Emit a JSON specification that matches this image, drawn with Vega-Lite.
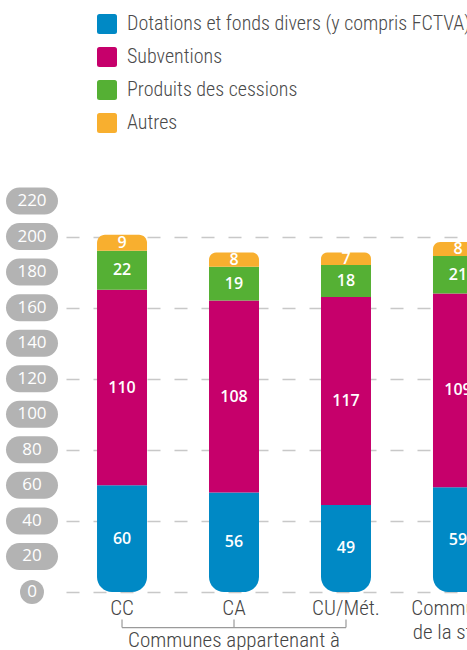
{
  "$schema": "https://vega.github.io/schema/vega-lite/v6.json",
  "width": 448,
  "height": 391,
  "autosize": {"type": "none"},
  "padding": {"left": 66, "top": 201, "right": 0, "bottom": 59},
  "background": "white",
  "config": {"view": {"stroke": null}, "font": "Roboto"},
  "data": {
    "values": [
      {"cat": "CC", "type": "Dotations et fonds divers (y compris FCTVA)", "v": 60},
      {"cat": "CC", "type": "Subventions", "v": 110},
      {"cat": "CC", "type": "Produits des cessions", "v": 22},
      {"cat": "CC", "type": "Autres", "v": 9},
      {"cat": "CA", "type": "Dotations et fonds divers (y compris FCTVA)", "v": 56},
      {"cat": "CA", "type": "Subventions", "v": 108},
      {"cat": "CA", "type": "Produits des cessions", "v": 19},
      {"cat": "CA", "type": "Autres", "v": 8},
      {"cat": "CU/Mét.", "type": "Dotations et fonds divers (y compris FCTVA)", "v": 49},
      {"cat": "CU/Mét.", "type": "Subventions", "v": 117},
      {"cat": "CU/Mét.", "type": "Produits des cessions", "v": 18},
      {"cat": "CU/Mét.", "type": "Autres", "v": 7},
      {"cat": "Communes de la strate", "type": "Dotations et fonds divers (y compris FCTVA)", "v": 59},
      {"cat": "Communes de la strate", "type": "Subventions", "v": 109},
      {"cat": "Communes de la strate", "type": "Produits des cessions", "v": 21},
      {"cat": "Communes de la strate", "type": "Autres", "v": 8}
    ]
  },
  "transform": [{"stack": "v", "groupby": ["cat"], "as": ["v0", "v1"]}],
  "layer": [
    {
      "transform": [{"filter": "datum.type === 'Dotations et fonds divers (y compris FCTVA)'"}],
      "mark": {"type": "bar", "cornerRadiusBottomLeft": 15, "cornerRadiusBottomRight": 15},
      "encoding": {
        "x": {
          "field": "cat", "type": "nominal",
          "sort": ["CC", "CA", "CU/Mét.", "Communes de la strate"],
          "scale": {"domain": ["CC", "CA", "CU/Mét.", "Communes de la strate"], "paddingInner": 0.5536, "paddingOuter": 0.277},
          "axis": {
            "title": null, "domain": false, "ticks": false, "labelAngle": 0,
            "labelFontSize": 21, "labelFont": "Roboto Condensed, DejaVu Sans Condensed, Roboto", "labelFontWeight": 300, "labelColor": "#444444",
            "labelPadding": 5, "labelOverlap": false, "labelFlush": false, "labelLimit": 300,
            "labelLineHeight": 24,
            "labelExpr": "datum.label == 'Communes de la strate' ? ['Communes', 'de la strate'] : datum.label"
          }
        },
        "y": {
          "field": "v1", "type": "quantitative",
          "scale": {"domain": [0, 220], "nice": false, "zero": true},
          "axis": {
            "title": null, "labels": false, "ticks": false, "domain": false, "grid": true,
            "values": [0, 20, 40, 60, 80, 100, 120, 140, 160, 180, 200, 220],
            "gridColor": "#C8C8C8", "gridWidth": 1.5, "gridDash": [13, 14]
          }
        },
        "y2": {"field": "v0"},
        "color": {
          "field": "type", "type": "nominal",
          "scale": {
            "domain": ["Dotations et fonds divers (y compris FCTVA)", "Subventions", "Produits des cessions", "Autres"],
            "range": ["#0089C5", "#C6006B", "#55B034", "#F8AF2F"]
          },
          "legend": {
            "title": null, "orient": "none", "legendX": 31, "legendY": -187, "padding": 0,
            "direction": "vertical",
            "symbolType": "M-0.75,-1H0.75Q1,-1 1,-0.75V0.75Q1,1 0.75,1H-0.75Q-1,1 -1,0.75V-0.75Q-1,-1 -0.75,-1Z",
            "symbolSize": 400, "symbolStrokeWidth": 0, "symbolOpacity": 1,
            "labelFontSize": 20, "labelFont": "Roboto Condensed, DejaVu Sans Condensed, Roboto", "labelFontWeight": 300, "labelColor": "#4A4A4A",
            "labelOffset": 10, "rowPadding": 13, "labelLimit": 500
          }
        }
      }
    },
    {
      "transform": [{"filter": "datum.type === 'Subventions' || datum.type === 'Produits des cessions'"}],
      "mark": {"type": "bar"},
      "encoding": {
        "x": {"field": "cat", "type": "nominal", "sort": ["CC", "CA", "CU/Mét.", "Communes de la strate"]},
        "y": {"field": "v1", "type": "quantitative"},
        "y2": {"field": "v0"},
        "color": {"field": "type", "type": "nominal"}
      }
    },
    {
      "transform": [{"filter": "datum.type === 'Autres'"}],
      "mark": {"type": "bar", "cornerRadiusTopLeft": 12, "cornerRadiusTopRight": 12},
      "encoding": {
        "x": {"field": "cat", "type": "nominal", "sort": ["CC", "CA", "CU/Mét.", "Communes de la strate"]},
        "y": {"field": "v1", "type": "quantitative"},
        "y2": {"field": "v0"},
        "color": {"field": "type", "type": "nominal"}
      }
    },
    {
      "mark": {"type": "text", "fill": "white", "font": "Open Sans", "fontWeight": 600, "fontSize": 16, "baseline": "middle"},
      "encoding": {
        "x": {"field": "cat", "type": "nominal", "sort": ["CC", "CA", "CU/Mét.", "Communes de la strate"]},
        "y": {"field": "v", "type": "quantitative", "stack": "zero", "bandPosition": 0.5},
        "detail": {"field": "type"},
        "order": {"field": "v0", "type": "quantitative"},
        "text": {"field": "v", "type": "quantitative"}
      }
    },
    {
      "data": {"values": [{"t": 0}, {"t": 20}, {"t": 40}, {"t": 60}, {"t": 80}, {"t": 100}, {"t": 120}, {"t": 140}, {"t": 160}, {"t": 180}, {"t": 200}, {"t": 220}]},
      "mark": {"type": "point", "filled": true, "fill": "#B3B3B3", "opacity": 1, "strokeWidth": 0},
      "encoding": {
        "x": {"value": -34},
        "y": {"field": "t", "type": "quantitative"},
        "shape": {
          "condition": {"test": "datum.t === 0", "value": "circle"},
          "value": "M-0.481,-0.519L0.481,-0.519A0.519,0.519 0 0 1 0.481,0.519L-0.481,0.519A0.519,0.519 0 0 1 -0.481,-0.519Z"
        },
        "size": {"condition": {"test": "datum.t === 0", "value": 573}, "value": 2704}
      }
    },
    {
      "data": {"values": [{"t": 0}, {"t": 20}, {"t": 40}, {"t": 60}, {"t": 80}, {"t": 100}, {"t": 120}, {"t": 140}, {"t": 160}, {"t": 180}, {"t": 200}, {"t": 220}]},
      "mark": {"type": "text", "fill": "white", "font": "Open Sans", "fontSize": 17, "baseline": "middle", "align": "center"},
      "encoding": {
        "x": {"value": -34},
        "y": {"field": "t", "type": "quantitative"},
        "text": {"field": "t", "type": "quantitative"}
      }
    },
    {
      "data": {"values": [{"cat": "CC"}, {"cat": "CA"}, {"cat": "CU/Mét."}]},
      "mark": {"type": "rule", "stroke": "#9A9A9A", "strokeWidth": 1.2},
      "encoding": {
        "x": {"field": "cat", "type": "nominal", "sort": ["CC", "CA", "CU/Mét.", "Communes de la strate"], "bandPosition": 0.5},
        "y": {"datum": -20},
        "y2": {"datum": -15.5}
      }
    },
    {
      "data": {"values": [{"g": "Communes appartenant à"}]},
      "mark": {"type": "rule", "stroke": "#9A9A9A", "strokeWidth": 1.2},
      "encoding": {
        "x": {"datum": "CC", "type": "nominal", "bandPosition": 0.5},
        "x2": {"datum": "CU/Mét.", "bandPosition": 0.5},
        "y": {"datum": -20}
      }
    },
    {
      "data": {"values": [{"g": "Communes appartenant à"}]},
      "mark": {"type": "text", "font": "Roboto Condensed, DejaVu Sans Condensed, Roboto", "fontWeight": 300, "fontSize": 21, "fill": "#444444", "baseline": "middle", "align": "center"},
      "encoding": {
        "x": {"datum": "CA", "type": "nominal", "bandPosition": 0.5},
        "y": {"datum": -27.5},
        "text": {"field": "g"}
      }
    }
  ]
}
